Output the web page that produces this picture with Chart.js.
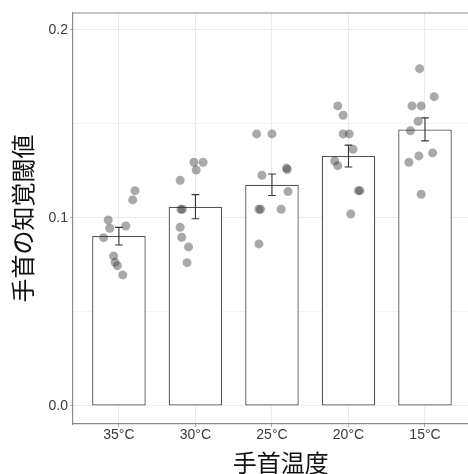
<!DOCTYPE html>
<html>
<head>
<meta charset="utf-8">
<script src="https://cdn.jsdelivr.net/npm/chart.js@4"></script>
<style>
  body { margin: 0; overflow: hidden; background: #fff; }
</style>
</head>
<body>
<canvas id="myChart" width="493" height="474"></canvas>
<script>
// categorias y medias (barras)
const temperaturas = ['35°C', '30°C', '25°C', '20°C', '15°C'];
const posiciones = [1, 2, 3, 4, 5];
const medias = [0.0904, 0.1060, 0.1177, 0.1330, 0.1471];
const errorInf = [0.0856, 0.0996, 0.1119, 0.1271, 0.1410];
const errorSup = [0.0950, 0.1124, 0.1234, 0.1387, 0.1532];

// puntos individuales: x con jitter, y = umbral
const x35 = [1.21, 1.18, 0.86, 0.88, 1.09, 0.80, 0.93, 0.95, 0.98, 1.05];
const y35 = [0.1145, 0.1096, 0.0989, 0.0945, 0.0957, 0.0895, 0.0798, 0.0764, 0.0746, 0.0697];
const x30 = [1.98, 2.10, 2.01, 1.80, 1.81, 1.83, 1.80, 1.82, 1.91, 1.89];
const y30 = [0.1296, 0.1296, 0.1255, 0.1200, 0.1046, 0.1046, 0.0950, 0.0897, 0.0846, 0.0762];
const x25 = [2.80, 3.00, 2.87, 3.19, 3.20, 3.21, 2.83, 2.85, 3.12, 2.83];
const y25 = [0.1447, 0.1447, 0.1227, 0.1265, 0.1257, 0.1140, 0.1046, 0.1046, 0.1046, 0.0862];
const x20 = [3.86, 3.93, 3.93, 4.01, 4.06, 3.82, 3.86, 4.13, 4.15, 4.03];
const y20 = [0.1596, 0.1546, 0.1447, 0.1447, 0.1365, 0.1303, 0.1278, 0.1145, 0.1145, 0.1021];
const x15 = [4.93, 5.12, 4.83, 4.95, 4.91, 4.81, 5.10, 4.92, 4.79, 4.95];
const y15 = [0.1794, 0.1645, 0.1596, 0.1596, 0.1514, 0.1464, 0.1346, 0.1330, 0.1296, 0.1126];

const yTicks = [0, 0.05, 0.1, 0.15, 0.2];
const yTickLabels = ['0.0', '', '0.1', '', '0.2'];

const tituloY = '手首の知覚閾値';
const tituloX = '手首温度';

function juntar(xs, ys) {
  return xs.map((x, i) => ({ x: x, y: ys[i] }));
}
const puntos = [].concat(juntar(x35, y35), juntar(x30, y30), juntar(x25, y25), juntar(x20, y20), juntar(x15, y15));
const barras = posiciones.map((p, i) => ({ x: p, y: medias[i] }));

const esMayor = v => Math.abs(v * 10 - Math.round(v * 10)) < 1e-6;

// barras de error, dibujadas encima de las barras
const errorBars = {
  id: 'errorBars',
  afterDatasetDraw(chart, args) {
    if (args.index !== 1) return;
    const ctx = chart.ctx, xs = chart.scales.x, ys = chart.scales.y;
    ctx.save();
    ctx.strokeStyle = '#333';
    ctx.lineWidth = 1.1;
    posiciones.forEach((p, i) => {
      const x = xs.getPixelForValue(p);
      const x0 = xs.getPixelForValue(p - 0.05);
      const x1 = xs.getPixelForValue(p + 0.05);
      const yl = ys.getPixelForValue(errorInf[i]);
      const yh = ys.getPixelForValue(errorSup[i]);
      ctx.beginPath();
      ctx.moveTo(x, yl); ctx.lineTo(x, yh);
      ctx.moveTo(x0, yl); ctx.lineTo(x1, yl);
      ctx.moveTo(x0, yh); ctx.lineTo(x1, yh);
      ctx.stroke();
    });
    ctx.restore();
  }
};

// linea superior del panel
const bordeSuperior = {
  id: 'bordeSuperior',
  afterDraw(chart) {
    const a = chart.chartArea, ctx = chart.ctx;
    ctx.save();
    ctx.strokeStyle = '#8c8c8c';
    ctx.lineWidth = 1.2;
    ctx.beginPath();
    ctx.moveTo(a.left, a.top);
    ctx.lineTo(a.right, a.top);
    ctx.stroke();
    ctx.restore();
  }
};

const config = {
  type: 'bar',
  data: {
    datasets: [
      {
        type: 'scatter',
        data: puntos,
        backgroundColor: 'rgba(50,50,50,0.42)',
        borderWidth: 0,
        pointRadius: 4.5,
        order: 1
      },
      {
        type: 'bar',
        data: barras,
        backgroundColor: '#ffffff',
        borderColor: '#555555',
        borderWidth: 1.3,
        borderSkipped: false,
        barPercentage: 0.7,
        categoryPercentage: 1,
        order: 2
      }
    ]
  },
  options: {
    responsive: false,
    animation: false,
    devicePixelRatio: 1,
    layout: { padding: { top: 13, left: 0, right: 0, bottom: 0 } },
    plugins: { legend: { display: false }, tooltip: { enabled: false } },
    scales: {
      x: {
        type: 'linear',
        min: 0.4,
        max: 5.83,
        offset: false,
        afterBuildTicks: s => { s.ticks = posiciones.map(v => ({ value: v })); },
        afterFit: s => { s.height = 50; },
        ticks: {
          autoSkip: false,
          maxRotation: 0,
          padding: 0,
          color: '#3a3a3a',
          font: { family: 'Liberation Sans', size: 14 },
          callback: (v, i) => temperaturas[i]
        },
        grid: { offset: false, color: '#ebebeb', tickColor: '#aaaaaa', tickLength: 3 },
        border: { color: '#8c8c8c', width: 1.2 },
        title: {
          display: true,
          text: tituloX,
          color: '#111',
          font: { family: 'Noto Sans CJK JP', size: 24, lineHeight: 0.92 },
          padding: { top: 0, bottom: 0 }
        }
      },
      y: {
        min: -0.0096,
        max: 0.209,
        afterBuildTicks: s => { s.ticks = yTicks.map(v => ({ value: v })); },
        afterFit: s => { s.width = 73; },
        ticks: {
          padding: 2,
          color: '#3a3a3a',
          font: { family: 'Liberation Sans', size: 14 },
          callback: (v, i) => yTickLabels[i]
        },
        grid: {
          color: c => esMayor(c.tick.value) ? '#ebebeb' : '#f3f3f3',
          tickColor: c => esMayor(c.tick.value) ? '#aaaaaa' : 'rgba(0,0,0,0)',
          tickLength: 3
        },
        border: { color: '#8c8c8c', width: 1.2 },
        title: {
          display: true,
          text: tituloY,
          color: '#111',
          font: { family: 'Noto Sans CJK JP', size: 24, lineHeight: 1 },
          padding: { top: 11, bottom: 0 }
        }
      }
    }
  },
  plugins: [errorBars, bordeSuperior]
};

new Chart(document.getElementById('myChart'), config);
</script>
</body>
</html>
